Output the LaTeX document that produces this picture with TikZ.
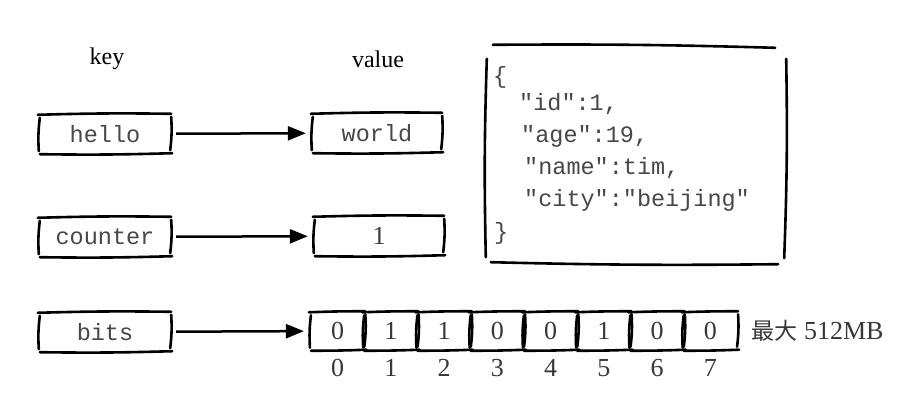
\documentclass[tikz,border=0pt]{standalone}
\usepackage{fontspec}
\setmainfont{Liberation Serif}
\setmonofont{Liberation Mono}
\newfontfamily\cjk{Noto Sans CJK SC}
\usetikzlibrary{arrows.meta,calc}

\tikzset{
  sk/.style={line width=2.6pt, line cap=round, black},
  cell/.style={inner sep=0pt, minimum width=#1, minimum height=38pt},
  cell/.default=130pt,
  mono/.style={font=\ttfamily\fontsize{23.5}{25}\selectfont, text=black!72},
  serif/.style={font=\fontsize{26}{28}\selectfont, text=black!78},
  head/.style={font=\fontsize{24}{26}\selectfont},
  link/.style={line width=2.5pt, -{Triangle[length=18pt,width=14pt]},
               shorten <=6pt, shorten >=7pt},
}

% four loose strokes around a node, like a pen-drawn frame
\newcommand\sketchframe[1]{%
  \draw[sk] ([shift={(-2,0)}]#1.north west) to[bend left=1.2] ([shift={(1,-1)}]#1.north east);
  \draw[sk] ([shift={(0,1)}]#1.south west) to[bend right=1.2] ([shift={(2,0)}]#1.south east);
  \draw[sk] ([shift={(0,3)}]#1.north west) to[bend right=5] ([shift={(-1,-2)}]#1.south west);
  \draw[sk] ([shift={(1,2)}]#1.north east) to[bend left=5] ([shift={(0,-3)}]#1.south east);
}

\begin{document}
\begin{tikzpicture}[x=1pt,y=-1pt]
\useasboundingbox[fill=white] (0,0) rectangle (918,406);

% column headings
\node[head] (hkey) at (107,59) {key};
\node[head] (hval) at (378,59) {value};

% string
\node[cell, mono] (hello) at (105,134) {hello};
\node[cell=128pt, mono] (world) at (377,133) {world};
\sketchframe{hello}\sketchframe{world}
\draw[link] (hello) -- (world);

% counter
\node[cell, mono] (counter) at (105,237) {counter};
\node[cell=128pt, serif] (one) at (379,236) {1};
\sketchframe{counter}\sketchframe{one}
\draw[link] (counter) -- (one);

% bitmap
\node[cell, mono] (bits) at (105,332) {bits};
\sketchframe{bits}
\foreach \v [count=\i from 0] in {0,1,1,0,0,1,0,0}{
  \node[cell=53pt, minimum height=37pt, serif] (b\i) at ({311+53.25*(\i+0.5)},331) {\v};
  \sketchframe{b\i}
  \node[serif] (n\i) at ({311+53.25*(\i+0.5)},368) {\i};
}
\draw[link] (bits) -- (b0);
\node[serif, anchor=west] (max) at (748,331) {{\cjk\fontsize{23}{26}\selectfont 最大} 512MB};

% hash / document value
\node[inner sep=0pt, minimum width=300pt, minimum height=218pt] (json) at (637,154) {};
\draw[sk] ([shift={(6,0)}]json.north west) to[bend left=1] ([shift={(-12,3)}]json.north east);
\draw[sk] ([shift={(4,-1)}]json.south west) to[bend right=1] ([shift={(-9,1)}]json.south east);
\draw[sk] ([shift={(0,14)}]json.north west) to[bend right=1.5] ([shift={(-1,-6)}]json.south west);
\draw[sk] ([shift={(-1,14)}]json.north east) to[bend left=1.5] ([shift={(-3,-5)}]json.south east);
\begin{scope}[every node/.style={mono, anchor=west, inner sep=0pt}]
\node (j0) at (493,77) {\{};
\node (j1) at (519,104) {"id":1,};
\node (j2) at (521,136) {"age":19,};
\node (j3) at (524,168) {"name":tim,};
\node (j4) at (524,200) {"city":"beijing"};
\node (j5) at (494,233) {\}};
\end{scope}
\end{tikzpicture}
\end{document}
